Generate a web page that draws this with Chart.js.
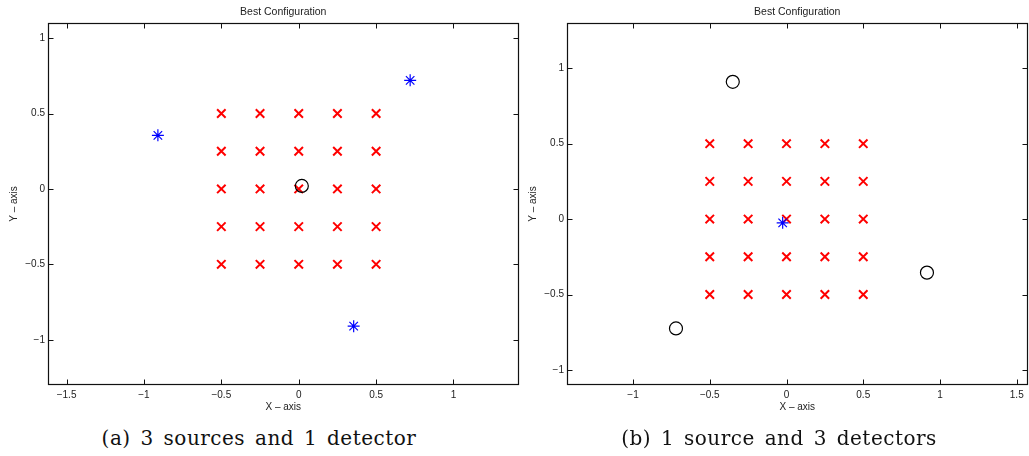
<!DOCTYPE html>
<html>
<head>
<meta charset="utf-8">
<script src="https://cdn.jsdelivr.net/npm/chart.js@4"></script>
<style>
  body { margin: 0; background: #fff; width: 1029px; height: 456px; position: relative; overflow: hidden; }
  .panel { position: absolute; top: 0; }
  .caption { position: absolute; top: 427px; font-family: "DejaVu Serif", serif; font-size: 20px; line-height: 22px; letter-spacing: 0.5px; word-spacing: 3px; color: #111; white-space: nowrap; text-align: center; }
</style>
</head>
<body>
<div class="panel" style="left:0px"><canvas id="left" width="520" height="420"></canvas></div>
<div class="panel" style="left:519px"><canvas id="right" width="510" height="420"></canvas></div>
<div class="caption" style="left:59px;width:400px">(a) 3 sources and 1 detector</div>
<div class="caption" style="left:579px;width:400px">(b) 1 source and 3 detectors</div>
<script>
// candidate grid (the red crosses), same in both panels
const gridX = [-0.5, -0.25, 0, 0.25, 0.5];
const gridY = [0.5, 0.25, 0, -0.25, -0.5];

// (a) 3 sources, 1 detector
const aSourceX = [-0.91, 0.72, 0.355];
const aSourceY = [0.355, 0.72, -0.91];
const aDetectorX = [0.02];
const aDetectorY = [0.02];
const aTicksX = [-1.5, -1, -0.5, 0, 0.5, 1];
const aTicksY = [-1, -0.5, 0, 0.5, 1];

// (b) 1 source, 3 detectors
const bSourceX = [-0.025];
const bSourceY = [-0.025];
const bDetectorX = [-0.35, -0.72, 0.915];
const bDetectorY = [0.91, -0.725, -0.355];
const bTicksX = [-1, -0.5, 0, 0.5, 1, 1.5];
const bTicksY = [-1, -0.5, 0, 0.5, 1];

const FONT = '"Liberation Sans", Arial, sans-serif';
const INK = '#222';

function toPoints(xs, ys) {
  return xs.map((x, i) => ({ x: x, y: ys[i] }));
}

function gridPoints() {
  const pts = [];
  gridY.forEach(y => gridX.forEach(x => pts.push({ x: x, y: y })));
  return pts;
}

function fmt(v) {
  return String(v).replace('-', '\u2212');
}

// matlab style box: frame on all sides, ticks pointing inward, title on top
const boxPlugin = {
  id: 'box',
  afterDatasetsDraw(chart, args, opts) {
    const { ctx, chartArea: a, scales } = chart;
    const L = Math.round(a.left) + 0.5, R = Math.round(a.right) - 0.5;
    const T = Math.round(a.top) + 0.5, B = Math.round(a.bottom) - 0.5;
    ctx.save();
    ctx.strokeStyle = '#111';
    ctx.lineWidth = 1.2;
    ctx.strokeRect(L, T, R - L, B - T);
    ctx.lineWidth = 1;
    ctx.beginPath();
    scales.x.ticks.forEach(t => {
      const px = Math.round(scales.x.getPixelForValue(t.value)) + 0.5;
      ctx.moveTo(px, B); ctx.lineTo(px, B - 5);
      ctx.moveTo(px, T); ctx.lineTo(px, T + 5);
    });
    scales.y.ticks.forEach(t => {
      const py = Math.round(scales.y.getPixelForValue(t.value)) + 0.5;
      ctx.moveTo(L, py); ctx.lineTo(L + 5, py);
      ctx.moveTo(R, py); ctx.lineTo(R - 5, py);
    });
    ctx.stroke();
    ctx.fillStyle = INK;
    ctx.font = '10.5px ' + FONT;
    ctx.textAlign = 'center';
    ctx.textBaseline = 'middle';
    ctx.fillText(opts.text, (a.left + a.right) / 2, 12);
    ctx.restore();
  }
};

function makeChart(id, sx, sy, dx, dy, ticksX, ticksY, xr, yr) {
  return new Chart(document.getElementById(id), {
    type: 'scatter',
    data: {
      datasets: [
        {
          label: 'source',
          data: toPoints(sx, sy),
          pointStyle: 'star',
          pointRadius: 6,
          borderColor: '#0000ff',
          backgroundColor: '#0000ff',
          borderWidth: 1.2,
          order: 1
        },
        {
          label: 'detector',
          data: toPoints(dx, dy),
          pointStyle: 'circle',
          pointRadius: 6.5,
          borderColor: '#000',
          backgroundColor: 'transparent',
          borderWidth: 1.2,
          order: 2
        },
        {
          label: 'grid',
          data: gridPoints(),
          pointStyle: 'crossRot',
          pointRadius: 6,
          borderColor: '#ff0000',
          backgroundColor: '#ff0000',
          borderWidth: 2,
          order: 3
        }
      ]
    },
    options: {
      responsive: false,
      animation: false,
      // fixed frame: no automatic room for markers near the edges
      layout: { autoPadding: false, padding: { top: 23, right: 1.5, left: 0, bottom: 0 } },
      plugins: {
        legend: { display: false },
        tooltip: { enabled: false },
        box: { text: 'Best Configuration' }
      },
      scales: {
        x: {
          type: 'linear',
          min: xr[0],
          max: xr[1],
          afterBuildTicks: s => { s.ticks = ticksX.map(v => ({ value: v })); },
          afterFit: s => { s.height = 35; s.paddingLeft = 0; s.paddingRight = 0; },
          grid: { display: false, drawTicks: false },
          border: { display: false },
          ticks: { padding: 4, color: INK, font: { family: FONT, size: 10 }, callback: v => fmt(v), maxRotation: 0 },
          title: { display: true, text: 'X \u2013 axis', color: INK, font: { family: FONT, size: 10 }, padding: { top: 0, bottom: 7 } }
        },
        y: {
          type: 'linear',
          min: yr[0],
          max: yr[1],
          afterBuildTicks: s => { s.ticks = ticksY.map(v => ({ value: v })); },
          afterFit: s => { s.width = 48; s.paddingTop = 0; s.paddingBottom = 0; },
          grid: { display: false, drawTicks: false },
          border: { display: false },
          ticks: { padding: 3, color: INK, font: { family: FONT, size: 10 }, callback: v => fmt(v) },
          title: { display: true, text: 'Y \u2013 axis', color: INK, font: { family: FONT, size: 10 }, padding: { top: 8, bottom: 0 } }
        }
      }
    },
    plugins: [boxPlugin]
  });
}

makeChart('left', aSourceX, aSourceY, aDetectorX, aDetectorY, aTicksX, aTicksY, [-1.62, 1.42], [-1.3, 1.1]);
makeChart('right', bSourceX, bSourceY, bDetectorX, bDetectorY, bTicksX, bTicksY, [-1.43, 1.57], [-1.1, 1.3]);
</script>
</body>
</html>
